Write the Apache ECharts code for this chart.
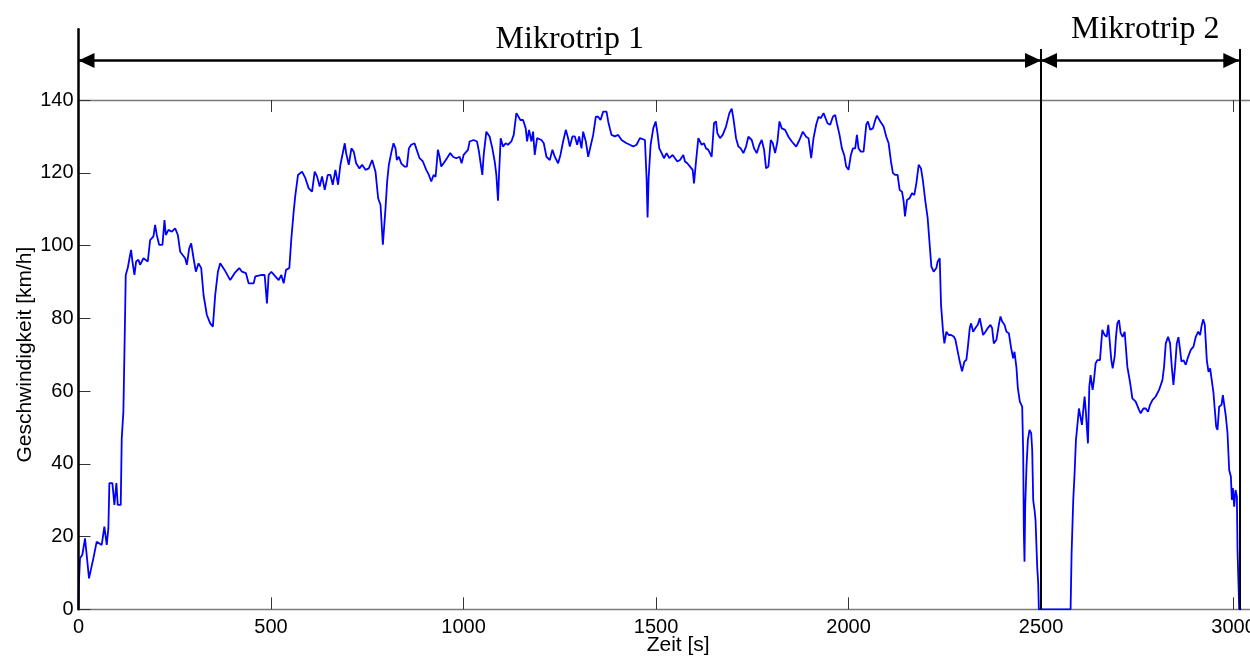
<!DOCTYPE html>
<html>
<head>
<meta charset="utf-8">
<script src="https://cdn.jsdelivr.net/npm/echarts@6/dist/echarts.min.js"></script>
<style>
  html, body { margin: 0; padding: 0; background: #fff; }
  #speed { width: 1250px; height: 659px; }
</style>
</head>
<body>
<div id="speed"></div>
<script>
// Zeit [s] und Geschwindigkeit [km/h]
var zeit = [0, 1.3, 3.9, 10, 17, 21.2, 27.3, 38.6, 47.3, 60.3, 67.2, 73.3, 77.6, 80.2, 88, 93.2, 98.4, 101.9, 109.7, 112.3,
    116.6, 119.2, 121, 122.7, 127.9, 134, 136.6, 140.1, 145.3, 149.6, 155.7, 160, 168.7, 180, 186, 194.7, 199, 203.4, 209.4, 218.1,
    223.3, 226.8, 233.7, 242.4, 251.1, 258, 264.1, 277, 281.4, 287.5, 292.7, 298.8, 304.8, 311.8, 318.7, 324.8, 333.4, 342.1, 349, 355.1,
    362.1, 368.1, 379.4, 394.1, 405.4, 417.6, 424.5, 434.9, 441.8, 454.9, 459.2, 476.5, 483.5, 489.5, 493.9, 500.8, 511.2, 519.9, 526.8, 532.9,
    539, 547.6, 552.9, 558.9, 563.3, 570.2, 580.6, 589.3, 597.9, 606.6, 613.5, 619.6, 626.5, 632.6, 639.6, 647.4, 654.3, 660.4, 667.3, 674.2,
    680.3, 691.6, 695.1, 702, 708.9, 715, 721.1, 729.7, 736.7, 745.4, 754, 762.7, 771.4, 778.3, 784.4, 790.5, 797.4, 801.7, 806.1, 813,
    818.2, 823.4, 826.9, 832.1, 838.2, 842.5, 846.8, 852.9, 858.1, 864.2, 872.8, 877.2, 885.9, 894.5, 903.2, 910.1, 916.2, 922.3, 927.5, 933.5,
    937.9, 942.2, 948.3, 957, 965.6, 972.6, 981.2, 989.9, 995.1, 1000.3, 1011.6, 1015.9, 1026.3, 1035, 1040.2, 1043.7, 1048.9, 1052.4, 1059.3, 1068,
    1074.9, 1081, 1085.3, 1089.6, 1092.2, 1096.6, 1102.6, 1109.5, 1115.6, 1124.3, 1130.4, 1137.3, 1141.7, 1147.7, 1154.7, 1161.6, 1165.1, 1170.3, 1176.4, 1180.7,
    1185, 1191.1, 1202.4, 1208.5, 1215.4, 1224.1, 1231, 1237.1, 1245.7, 1251.8, 1258.7, 1265.7, 1271.7, 1276.1, 1283, 1289.1, 1295.2, 1300.4, 1306.4, 1310.8,
    1317.7, 1323.8, 1328.1, 1336.8, 1343.7, 1349.8, 1355.9, 1362.8, 1371.5, 1375.8, 1380.1, 1384.5, 1393.1, 1401.8, 1410.5, 1423.5, 1432.2, 1440.9, 1449.5, 1458.2,
    1471.2, 1475.5, 1478.1, 1480.8, 1486, 1492.9, 1499, 1503.3, 1508.5, 1514.6, 1520.6, 1527.6, 1534.5, 1543.2, 1549.3, 1555.3, 1562.3, 1570.9, 1575.3, 1581.3,
    1588.3, 1595.2, 1598.7, 1603.9, 1610, 1618.5, 1624.6, 1629.8, 1635.9, 1644.6, 1650.6, 1655.8, 1659.3, 1666.2, 1673.2, 1681.8, 1690.5, 1696.6, 1700.9, 1707.9,
    1713.9, 1720, 1726.9, 1733.9, 1739.9, 1748.6, 1754.7, 1761.6, 1768.6, 1774.6, 1780.7, 1785.9, 1792, 1798.1, 1803.3, 1809.3, 1815.4, 1820.6, 1826.7, 1835.3,
    1844, 1852.7, 1864, 1872.6, 1881.3, 1890, 1896.1, 1903, 1909.1, 1916, 1922.1, 1928.1, 1935.1, 1939.4, 1945.5, 1952.4, 1959.4, 1965.4, 1969.8, 1976.7,
    1982.8, 1988.8, 1994, 2000.1, 2006.2, 2011.4, 2017.4, 2021.8, 2026.1, 2032.2, 2039.1, 2046.1, 2050.4, 2056.5, 2063.4, 2069.5, 2073.8, 2082.5, 2091.2, 2098.1,
    2104.2, 2110.2, 2115.4, 2121.5, 2127.5, 2132.8, 2138.9, 2143.2, 2146.7, 2151.9, 2158.8, 2164.9, 2170.9, 2176.2, 2182.2, 2188.3, 2193.5, 2199.6, 2205.6, 2210.8,
    2215.2, 2221.2, 2228.1, 2231.6, 2236.9, 2240.3, 2245.6, 2249, 2254.2, 2260.3, 2266.3, 2273.3, 2277.6, 2281.9, 2288.9, 2294.9, 2301, 2306.2, 2309.7, 2314.9,
    2318.4, 2323.6, 2329.6, 2335.7, 2340.9, 2344.4, 2349.6, 2355.7, 2361.7, 2368.7, 2373, 2377.3, 2384.3, 2390.4, 2394.7, 2399.1, 2405.1, 2410.3, 2416.4, 2422.4,
    2427.6, 2431.1, 2436.3, 2439.8, 2445, 2451.1, 2453.7, 2455.4, 2457.1, 2458.9, 2462.3, 2465.8, 2470.1, 2474.5, 2477.1, 2479.7, 2483.1, 2485.7, 2490.1, 2492.7,
    2494.4, 2576.8, 2579.4, 2583.7, 2587.2, 2590.7, 2594.1, 2598.5, 2602.8, 2606.3, 2609.8, 2613.2, 2616.7, 2621.9, 2625.4, 2628.8, 2634, 2637.5, 2641.8, 2646.2,
    2653.1, 2659.2, 2665.3, 2670.5, 2674.8, 2679.1, 2682.6, 2686.1, 2691.3, 2694.7, 2698.2, 2702.5, 2706.9, 2712.1, 2717.3, 2724.2, 2728.6, 2732.9, 2737.2, 2745.9,
    2750.2, 2754.6, 2758.9, 2765.9, 2772, 2778, 2783.2, 2789.3, 2797.9, 2806.6, 2815.3, 2819.6, 2824, 2830, 2835.2, 2839.6, 2843.9, 2848.2, 2852.6, 2856.9,
    2861.2, 2864.7, 2869.9, 2876, 2882.1, 2889, 2896, 2902, 2908.1, 2913.3, 2916.7, 2921.1, 2925.4, 2930.6, 2935, 2939.3, 2943.6, 2948, 2951.4, 2954.9,
    2958.4, 2962.7, 2968.8, 2972.3, 2975.7, 2980.1, 2984.4, 2988.7, 2993.1, 2995.7, 2998.3, 3001.7, 3005.2, 3008.7, 3010.4, 3014.7, 3020];

var geschwindigkeit = [0.3, 8, 14, 15, 19.5, 20, 8.5, 14, 18.6, 17.7, 22.7, 17.7, 22.3, 34.7, 34.7, 28.7, 34.7, 28.7, 28.7, 47,
    54.4, 70, 80.9, 91.9, 93.8, 97.4, 98.8, 95.6, 91.9, 95.6, 96.1, 94.7, 96.5, 95.6, 101.5, 102.5, 105.7, 102.9, 100.2, 100.2,
    107, 102.9, 104.3, 103.8, 104.7, 102.9, 98.3, 96.5, 94.7, 99.2, 100.6, 96.5, 92.8, 95.1, 93.8, 86.4, 80.9, 78.6, 77.7, 86.4,
    92.8, 95.1, 93.3, 90.5, 92.4, 93.8, 92.8, 92.4, 89.6, 89.6, 91.5, 91.9, 91.9, 84.1, 91.9, 92.8, 91.5, 90.5, 91.9, 89.6,
    93.3, 93.8, 102, 109.3, 113.9, 119.4, 120.3, 118.5, 115.7, 114.8, 120.3, 119, 116.2, 119, 115.3, 119.4, 119.4, 116.7, 120.8, 116.7,
    122.2, 128.1, 125.4, 122.2, 126.7, 125.8, 122.6, 121.2, 122.2, 120.8, 121.2, 123.5, 120.3, 113, 111.2, 100.2, 110.2, 117.6, 122.2, 125.8,
    128.1, 126.7, 123.5, 124.4, 122.6, 123.1, 121.7, 121.7, 126.7, 127.7, 128.1, 126.7, 124, 123.1, 120.8, 119.4, 117.6, 119.4, 118.9, 126.3,
    124.4, 121.7, 122.6, 124, 125.4, 124.4, 124, 124.4, 122.6, 124.9, 126.3, 128.6, 129, 128.6, 125.8, 123.1, 119.4, 124.9, 131.3, 129.9,
    126.7, 123.1, 119.4, 112.3, 119.4, 129.5, 127.2, 128.1, 127.7, 128.6, 130.4, 136.4, 136.8, 134.5, 134.5, 132.2, 128.6, 131.8, 128.6, 131.3,
    124.9, 129.5, 129, 128.1, 124.4, 123.5, 126.3, 124.4, 122.6, 124.9, 128.6, 131.8, 129.5, 127.2, 130, 130, 127.7, 130, 126.7, 131.3,
    128.6, 124.4, 124, 130.4, 135.4, 135.4, 134.5, 136.8, 136.8, 134.1, 132.2, 130.4, 130, 130.4, 129, 128.1, 127.7, 127.2, 127.7, 129.5,
    129, 118.5, 107.7, 118.5, 127.7, 132.2, 134.1, 131.3, 126.7, 125.4, 124, 125.4, 124, 124.9, 124, 123.1, 123.5, 124.9, 123.1, 122.6,
    121.7, 120.8, 117.1, 123.1, 129.5, 127.7, 128.1, 126.7, 126.3, 124.4, 133.6, 134.1, 130.9, 129.5, 130.4, 132.7, 136.4, 137.6, 135, 129.5,
    127.2, 126.7, 125.4, 127.2, 129.9, 129, 126.7, 125.4, 127.7, 129, 126.3, 121.2, 121.7, 129, 128.1, 125.4, 128.6, 134.1, 132.2, 131.8,
    129.9, 128.6, 127.2, 129, 131.3, 129.9, 129.5, 124, 129.5, 133.2, 135.4, 135, 136.4, 136.8, 133.6, 133.2, 135.4, 135.9, 133.6, 130.4,
    126.7, 124.9, 121.7, 120.8, 124.9, 126.7, 126.7, 130.4, 126.7, 125.8, 125.8, 133.2, 134.1, 131.8, 132.2, 134.5, 135.7, 134.1, 132.7, 129.9,
    128.1, 123.1, 119.9, 119.4, 119.4, 115.3, 114.8, 112.1, 108, 112.5, 113, 114.4, 113.9, 117.1, 122.2, 121.2, 117.6, 112.1, 107.5, 100.2,
    94.2, 92.8, 93.8, 95.6, 96.5, 83.7, 76.3, 73.1, 76.3, 75.4, 75.4, 75, 74.1, 71.8, 68.1, 65.4, 68.1, 68.6, 71.8, 77.3,
    78.6, 76.3, 77.3, 78.2, 80, 80.5, 75.4, 76.3, 77.3, 78.2, 77.3, 73.1, 74.1, 78.2, 80.5, 79.1, 78.2, 76.3, 75.9, 71.8,
    69, 70.8, 66.3, 60.8, 57.1, 55.7, 42.9, 20.9, 13.1, 28.2, 39.2, 46.5, 49.3, 48.4, 43.8, 30, 27.3, 24.6, 11.7, 7.1,
    0, 0, 15.4, 30, 37.4, 46.5, 50.2, 55.2, 54.8, 50.7, 54.8, 58.5, 53.9, 45.6, 61.2, 64.4, 60.3, 63, 67.6, 68.5,
    68.5, 76.8, 75.4, 74.9, 78.2, 78.6, 68.5, 66.2, 69.5, 74.9, 78.6, 79.5, 75.9, 74.9, 76.3, 66.7, 64, 61.2, 58, 57.1,
    56.6, 54.8, 53.9, 55.2, 55.2, 54.3, 56.2, 57.5, 58.5, 60.3, 63, 66.7, 73.1, 74.9, 73.1, 66.7, 61.7, 66.7, 73.1, 74.8,
    71.3, 68.1, 68.5, 67.2, 69.4, 71.3, 72.2, 74.9, 76.3, 75.4, 77.7, 79.7, 78.2, 68.5, 65.3, 66.2, 65.8, 59.4, 54.8, 50.2,
    49.3, 55.7, 56.2, 58.9, 59.4, 53, 48.4, 38.3, 36.5, 30.1, 33.3, 28.2, 32.8, 31, 16.3, 0, 0];

var xTicks = [0, 500, 1000, 1500, 2000, 2500, 3000];
var yTicks = [0, 20, 40, 60, 80, 100, 120, 140];

// Mikrotrip-Grenzen [s] und Beschriftung
var tripGrenzen = [0, 2500, 3015];
var tripNamen = ['Mikrotrip 1', 'Mikrotrip 2'];
var pfeilHoehe = 150.8;
var linienHoehe = 154;

var kurve = zeit.map(function (t, i) { return [t, geschwindigkeit[i]]; });

// Pfeilspitze: Spitze liegt genau im Symbolmittelpunkt
var pfeil = 'path://M0,0 M0,16 L7.5,32 L-7.5,32 Z';

var labelOffsets = [[10, 0], [5, 0]];
var labelDist = [5, 15];
var markDaten = [];
for (var k = 0; k < tripNamen.length; k++) {
    markDaten.push([
        {
            coord: [tripGrenzen[k], pfeilHoehe],
            label: {
                show: true,
                position: 'insideMiddleTop',
                formatter: tripNamen[k],
                distance: labelDist[k],
                offset: labelOffsets[k],
                fontFamily: 'Liberation Serif',
                fontSize: 32,
                color: '#000'
            }
        },
        { coord: [tripGrenzen[k + 1], pfeilHoehe] }
    ]);
}
for (var g = 1; g < tripGrenzen.length; g++) {
    markDaten.push([
        { coord: [tripGrenzen[g], 0], symbol: 'none', lineStyle: { width: 2 }, label: { show: false } },
        { coord: [tripGrenzen[g], linienHoehe], symbol: 'none' }
    ]);
}

var axisFont = { fontFamily: 'Liberation Sans', fontSize: 20, color: '#000' };
var grauLinie = { color: '#7a7a7a', width: 1.3 };
var tickStil = { color: '#333', width: 1 };
var plain = function (v) { return String(v); };

var chart = echarts.init(document.getElementById('speed'));
var option = {
    animation: false,
    backgroundColor: '#fff',
    grid: [
        { left: 78.5, width: 1199.3, top: 100, bottom: 49.7, containLabel: false, outerBoundsMode: 'none' },
        { left: 78.5, width: 1199.3, top: 29.3, bottom: 49.7, containLabel: false, outerBoundsMode: 'none' }
    ],
    xAxis: [
        {
            gridIndex: 0, type: 'value', min: 0, max: 3115, interval: 500, position: 'bottom',
            axisLine: { lineStyle: grauLinie },
            axisTick: { inside: true, length: 12, lineStyle: tickStil, customValues: xTicks },
            axisLabel: Object.assign({ margin: 8, customValues: xTicks, formatter: plain, hideOverlap: false }, axisFont),
            splitLine: { show: false },
            name: 'Zeit [s]', nameLocation: 'middle', nameGap: 25, nameMoveOverlap: false,
            nameTextStyle: { fontFamily: 'Liberation Sans', fontSize: 21, color: '#000' }
        },
        {
            gridIndex: 0, type: 'value', min: 0, max: 3115, interval: 500, position: 'top',
            axisLine: { lineStyle: grauLinie },
            axisTick: { inside: true, length: 12, lineStyle: tickStil, customValues: xTicks },
            axisLabel: { show: false },
            splitLine: { show: false }
        },
        { gridIndex: 1, type: 'value', min: 0, max: 3115, show: false }
    ],
    yAxis: [
        {
            gridIndex: 0, type: 'value', min: 0, max: 140, interval: 20,
            axisLine: { show: true, lineStyle: grauLinie },
            axisTick: { show: true, inside: true, length: 12, lineStyle: tickStil, customValues: yTicks },
            axisLabel: Object.assign({ margin: 5, customValues: yTicks, formatter: plain }, axisFont),
            splitLine: { show: false },
            name: 'Geschwindigkeit [km/h]', nameLocation: 'middle', nameGap: 43, nameMoveOverlap: false,
            nameTextStyle: { fontFamily: 'Liberation Sans', fontSize: 21, color: '#000' }
        },
        {
            gridIndex: 1, type: 'value', min: 0, max: 159.4, z: 5,
            axisLine: { show: true, lineStyle: { color: '#000', width: 2.5 } },
            axisTick: { show: false },
            axisLabel: { show: false },
            splitLine: { show: false }
        }
    ],
    series: [
        {
            name: 'Geschwindigkeit',
            type: 'line',
            xAxisIndex: 0,
            yAxisIndex: 0,
            data: kurve,
            symbol: 'none',
            lineStyle: { color: '#0000ff', width: 1.8 },
            z: 2
        },
        {
            name: 'Mikrotrips',
            type: 'line',
            xAxisIndex: 2,
            yAxisIndex: 1,
            data: [],
            symbol: 'none',
            z: 4,
            silent: true,
            markLine: {
                silent: true,
                animation: false,
                symbol: [pfeil, pfeil],
                symbolSize: [15, 32],
                lineStyle: { color: '#000', width: 2.5, type: 'solid' },
                itemStyle: { color: '#000' },
                label: { show: false },
                emphasis: { disabled: true },
                data: markDaten
            }
        }
    ]
};
chart.setOption(option);
</script>
</body>
</html>
